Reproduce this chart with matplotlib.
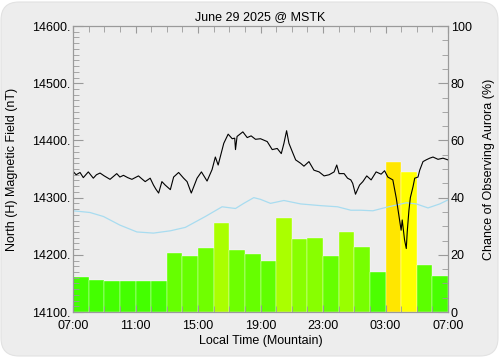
import matplotlib
matplotlib.use("Agg")
import matplotlib.pyplot as plt
from matplotlib.patches import FancyBboxPatch
from matplotlib.ticker import MultipleLocator, FixedLocator, FormatStrFormatter

# hourly chance of aurora (%), one bar per hour starting 07:00
bar_hours = list(range(24))
chance = [12.2, 11.2, 10.9, 10.9, 10.9, 10.9, 20.7, 19.6, 22.3, 31.2, 21.7, 20.4,
          17.8, 32.8, 25.6, 26.0, 19.5, 28.1, 22.7, 14.1, 52.6, 48.8, 16.3, 12.6]
bar_colors = ["#44ff00", "#44ff00", "#44ff00", "#44ff00", "#44ff00", "#44ff00",
              "#66ff00", "#66ff00", "#70ff00", "#aaff00", "#6eff00", "#66ff00",
              "#60ff00", "#aaff00", "#88ff00", "#88ff00", "#66ff00", "#99ff00",
              "#77ff00", "#4cff00", "#ffe600", "#ffff00", "#5cff00", "#48ff00"]

# north (H) magnetic field, hours after 07:00
mag_t = [0.0, 0.2, 0.45, 0.66, 0.98, 1.3, 1.5, 1.73, 2.0, 2.37, 2.8, 3.0, 3.23, 3.5, 3.77,
         4.19, 4.4, 4.62, 4.94, 5.15, 5.3, 5.48, 5.69, 5.9, 6.23, 6.44, 6.76, 7.08, 7.3,
         7.57, 7.94, 8.22, 8.58, 8.9, 9.11, 9.29, 9.65, 9.93, 10.19, 10.35, 10.4, 10.5,
         10.87, 11.15, 11.4, 11.68, 12.0, 12.43, 12.75, 13.07, 13.33, 13.5, 13.67, 13.82,
         14.04, 14.25, 14.57, 14.78, 15.1, 15.42, 15.75, 16.07, 16.39, 16.71, 16.88, 17.03,
         17.35, 17.57, 17.78, 17.9, 18.08, 18.34, 18.55, 18.8, 19.08, 19.4, 19.72, 19.94,
         20.15, 20.47, 20.69, 20.9, 21.0, 21.07, 21.22, 21.33, 21.39, 21.5, 21.59, 21.76,
         21.87, 22.08, 22.19, 22.4, 22.6, 22.83, 23.04, 23.36, 23.68, 24.0]
mag_nt = [14346, 14340, 14344, 14335, 14345, 14334, 14340, 14343, 14338, 14332, 14342,
          14336, 14339, 14335, 14332, 14338, 14333, 14328, 14334, 14322, 14315, 14308,
          14328, 14322, 14314, 14336, 14344, 14334, 14328, 14308, 14334, 14345, 14329,
          14349, 14371, 14357, 14395, 14411, 14403, 14404, 14384, 14407, 14415, 14405,
          14408, 14402, 14403, 14398, 14384, 14386, 14377, 14395, 14417, 14395, 14380,
          14366, 14360, 14355, 14363, 14348, 14345, 14338, 14340, 14345, 14357, 14342,
          14342, 14334, 14331, 14325, 14306, 14322, 14328, 14338, 14331, 14345, 14341,
          14347, 14336, 14331, 14299, 14261, 14243, 14261, 14226, 14211, 14240, 14278,
          14300, 14319, 14334, 14336, 14348, 14363, 14366, 14369, 14371, 14367, 14369, 14366]

# light blue reference curve (nT)
ref_t = [0.0, 1.09, 1.95, 3.0, 4.09, 5.15, 6.23, 7.19, 8.47, 9.54, 10.4, 10.93, 11.57,
         12.0, 12.64, 13.5, 14.57, 15.85, 16.93, 17.78, 18.42, 19.19, 20.04, 21.33, 21.97,
         22.72, 23.47, 24.0]
ref_nt = [14277, 14274, 14267, 14252, 14240, 14238, 14242, 14248, 14267, 14284, 14281,
          14290, 14300, 14297, 14290, 14295, 14289, 14286, 14284, 14278, 14278, 14277,
          14283, 14291, 14289, 14282, 14289, 14296]

hour_labels = ["07:00", "11:00", "15:00", "19:00", "23:00", "03:00", "07:00"]

plt.rcParams["font.family"] = ["Liberation Sans", "DejaVu Sans"]
plt.rcParams["font.size"] = 9

fig = plt.figure(figsize=(5, 3.57), dpi=100, facecolor="white")
panel = FancyBboxPatch((1, 1), 497, 354, boxstyle="round,pad=0,rounding_size=18",
                       transform=None, facecolor="#ededed", edgecolor="#e2e2e2", lw=0.8,
                       zorder=-10)
fig.patches.append(panel)

ax2 = fig.add_axes([0.146, 0.126, 0.75, 0.801])
ax = ax2.twinx()
ax.yaxis.tick_left()
ax.yaxis.set_label_position("left")
ax2.yaxis.tick_right()
ax2.yaxis.set_label_position("right")
ax.set_zorder(ax2.get_zorder() + 1)
ax.patch.set_visible(False)
ax2.set_facecolor("#ededed")

ax2.bar([h + 0.5 for h in bar_hours], chance, width=1.0, color=bar_colors,
        edgecolor="#ffffff", linewidth=0.25)
ax.plot(ref_t, ref_nt, color="#a8dcf0", lw=0.9)
ax.plot(mag_t, mag_nt, color="black", lw=0.8)

ax.set_xlim(0, 24)
ax.set_ylim(14100, 14600)
ax2.set_ylim(0, 100)

ax.yaxis.set_major_locator(MultipleLocator(100))
ax.yaxis.set_minor_locator(MultipleLocator(10))
ax.yaxis.set_major_formatter(FormatStrFormatter("%d."))
ax2.yaxis.set_major_locator(MultipleLocator(20))
ax2.yaxis.set_minor_locator(MultipleLocator(5))
ax2.xaxis.set_major_locator(FixedLocator([0, 4, 8, 12, 16, 20, 24]))
ax2.xaxis.set_minor_locator(MultipleLocator(1))
ax2.set_xticklabels(hour_labels)

gray = "#9a9a9a"
for a in (ax, ax2):
    for s in a.spines.values():
        s.set_color(gray)
        s.set_linewidth(0.8)
ax.tick_params(axis="y", which="both", direction="in", color=gray, pad=2)
ax.tick_params(axis="y", which="major", length=7)
ax.tick_params(axis="y", which="minor", length=4)
ax2.tick_params(axis="y", which="both", direction="in", color=gray, pad=2)
ax2.tick_params(axis="y", which="major", length=7)
ax2.tick_params(axis="y", which="minor", length=4)
ax2.tick_params(axis="x", which="both", direction="in", color=gray, top=True, pad=6)
ax2.tick_params(axis="x", which="major", length=5)
ax2.tick_params(axis="x", which="minor", length=4)

ax.set_title("June 29 2025 @ MSTK", fontsize=9, pad=4)
ax2.set_xlabel("Local Time (Mountain)", labelpad=2)
ax.set_ylabel("North (H) Magnetic Field (nT)")
ax.yaxis.set_label_coords(-0.147, 0.5)
ax2.set_ylabel("Chance of Observing Aurora (%)")
ax2.yaxis.set_label_coords(1.092, 0.5)

fig.savefig("out.png", dpi=100, facecolor="white")
